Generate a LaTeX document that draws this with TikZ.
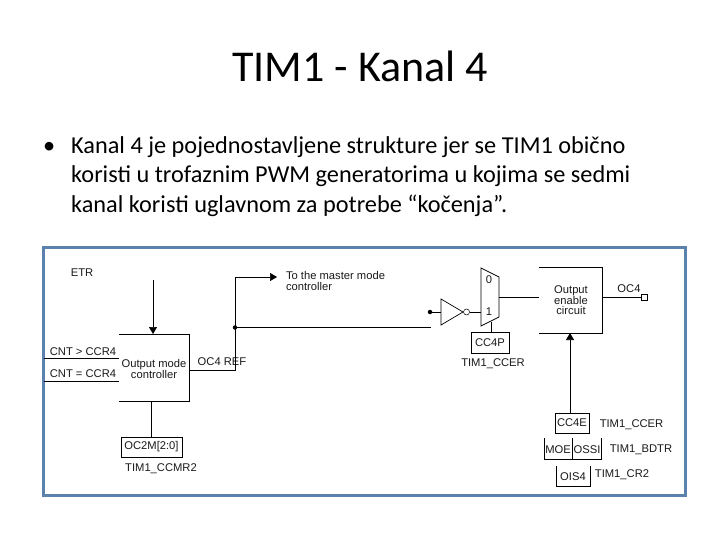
\documentclass[tikz,border=0pt]{standalone}
\usepackage{fontspec}
\setmainfont{Carlito}
\newfontfamily\diagfont{Liberation Sans}
\usetikzlibrary{arrows.meta}
\definecolor{framecol}{HTML}{5B82AC}
\definecolor{inkcol}{HTML}{1A1A1A}
\tikzset{
  x=1pt,y=-1pt,
  wire/.style={draw=black,line width=0.7pt},
  head/.style={wire,-{Triangle[length=7pt,width=8pt]}},
  lbl/.style={inner sep=0pt,yshift=-0.7pt,font=\diagfont\fontsize{11.2}{10.8}\selectfont,text=inkcol,align=center},
  regbox/.style={draw=black,line width=0.7pt,inner sep=0pt,font=\diagfont\fontsize{11.2}{10.8}\selectfont,text=inkcol},
  dotn/.style={circle,fill=black,inner sep=0pt,minimum size=4.5pt},
  slidetext/.style={inner sep=0pt,anchor=base west,font=\fontsize{24.3}{28}\selectfont,text=black},
}
\begin{document}
\begin{tikzpicture}
\useasboundingbox (0,0) rectangle (720,540);
\fill[white] (0,0) rectangle (720,540);
\node[inner sep=0pt,anchor=base,font=\fontsize{44}{52}\selectfont] (title) at (360,82) {TIM1 - Kanal 4};
\node[slidetext] (bullet) at (43,154) {•};
\node[slidetext] (l1) at (71,154) {Kanal 4 je pojednostavljene strukture jer se TIM1 obično};
\node[slidetext] (l2) at (71,183) {koristi u trofaznim PWM generatorima u kojima se sedmi};
\node[slidetext] (l3) at (71,212) {kanal koristi uglavnom za potrebe “kočenja”.};
\node[draw=framecol,line width=3pt,inner sep=0pt,minimum width=642pt,minimum height=248pt,anchor=north west] (frame) at (42,246) {};

% output mode controller
\coordinate (omtl) at (119,334); \coordinate (omtr) at (189,334);
\coordinate (ombr) at (189,401); \coordinate (ombl) at (119,401);
\draw[wire] (omtl) -- (omtr) -- (ombr) -- (ombl);
\node[lbl] (omtext) at (154,368) {Output mode\\controller};
\node[lbl] (etr) at (82,272) {ETR};
\coordinate (etrs) at (153,280); \coordinate (omin) at (153,334);
\draw[head] (etrs) -- (omin);
\coordinate (c1a) at (44,358); \coordinate (c1b) at (119,358);
\coordinate (c2a) at (44,381); \coordinate (c2b) at (119,381);
\draw[wire] (c1a) -- (c1b);
\draw[wire] (c2a) -- (c2b);
\node[lbl] (cnt1) at (83,351) {CNT > CCR4};
\node[lbl] (cnt2) at (83,373) {CNT = CCR4};
\node[regbox,minimum width=61pt,minimum height=20pt] (oc2m) at (151.5,447) {OC2M[2:0]};
\coordinate (ombot) at (151,401);
\draw[wire] (ombot) -- (ombot |- oc2m.north);
\node[lbl] (ccmr) at (161,468) {TIM1\_CCMR2};
% OC4 REF
\node[lbl] (ref) at (222,361) {OC4 REF};
\coordinate (refs) at (189,370); \coordinate (refc) at (235,370);
\coordinate (mastc) at (235,277); \coordinate (mast) at (277,277);
\draw[head] (refs) -- (refc) -- (mastc) -- (mast);
\node[lbl,align=left] (mtext) at (335.5,280.5) {To the master mode\\controller};
\node[dotn] (d1) at (235,327.5) {};
\coordinate (lineend) at (431,327.5);
\draw[wire] (d1) -- (lineend);
\node[dotn] (d2) at (430,312) {};
% inverter
\coordinate (t1) at (441,299); \coordinate (t2) at (441,325); \coordinate (t3) at (463,312);
\draw[wire] (t1) -- (t3) -- (t2) -- cycle;
\draw[wire] (d2) -- (t1 |- d2);
\node[circle,draw=black,line width=0.5pt,inner sep=0pt,minimum size=6pt] (bub) at (466.5,312) {};
% mux
\coordinate (m1) at (481,268); \coordinate (m2) at (499,277);
\coordinate (m3) at (499,317); \coordinate (m4) at (481,326);
\draw[wire] (m1) -- (m2) -- (m3) -- (m4) -- cycle;
\draw[wire] (bub) -- (m1 |- bub);
\node[lbl] (zero) at (489,279) {0};
\node[lbl] (one) at (489,311) {1};
\node[regbox,minimum width=38pt,minimum height=21pt] (cc4p) at (490,342.5) {CC4P};
\coordinate (mbot) at (491,321.5);
\draw[wire] (mbot) -- (mbot |- cc4p.north);
\node[lbl] (ccer1) at (493,363) {TIM1\_CCER};
% output enable
\coordinate (oetl) at (539,267); \coordinate (oetr) at (602,267);
\coordinate (oebr) at (602,333); \coordinate (oebl) at (539,333);
\draw[wire] (oetl) -- (oetr) -- (oebr) -- (oebl);
\node[lbl,align=center] (oetext) at (571,299.5) {Output\\enable\\circuit};
\coordinate (mo) at (499,297); \coordinate (oei) at (539,297);
\draw[wire] (mo) -- (oei);
\node[draw=black,line width=0.7pt,inner sep=0pt,minimum size=6pt] (pin) at (644,297) {};
\coordinate (oeo) at (602,297);
\draw[wire] (oeo) -- (pin);
\node[lbl] (oc4) at (629,288) {OC4};
% registers
\node[regbox,minimum width=34pt,minimum height=20pt] (cc4e) at (572,423) {CC4E};
\coordinate (oein) at (570,333);
\draw[head] (cc4e.north -| oein) -- (oein);
\node[lbl] (ccer2) at (631.5,424) {TIM1\_CCER};
\node[lbl] (moe) at (558,449) {MOE};
\node[lbl] (ossi) at (587,449) {OSSI};
\coordinate (ma) at (544,438); \coordinate (mb) at (544,459);
\coordinate (mc) at (601,459); \coordinate (md) at (601,438);
\coordinate (me) at (572,438); \coordinate (mf) at (572,459);
\draw[wire] (ma) -- (mb) -- (mc) -- (md);
\draw[wire] (me) -- (mf);
\node[lbl] (bdtr) at (641,449) {TIM1\_BDTR};
\coordinate (oa) at (556,466); \coordinate (ob) at (556,486);
\coordinate (oc) at (590,486); \coordinate (od) at (590,466);
\draw[wire] (oa) -- (ob) -- (oc) -- (od);
\node[lbl] (ois) at (573,476) {OIS4};
\node[lbl] (cr2) at (622,474) {TIM1\_CR2};
\end{tikzpicture}
\end{document}
